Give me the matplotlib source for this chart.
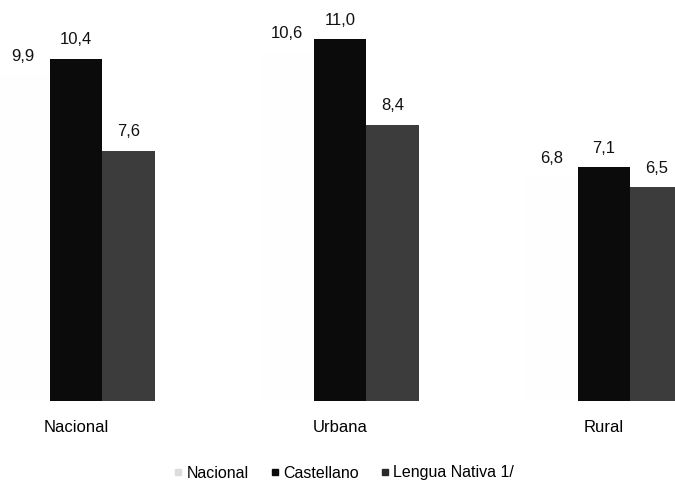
import matplotlib
matplotlib.use("Agg")
import matplotlib.pyplot as plt
from matplotlib.lines import Line2D
import numpy as np

plt.rcParams['font.family'] = ['Liberation Sans Narrow', 'Liberation Sans', 'DejaVu Sans']

categories = ["Nacional", "Urbana", "Rural"]
series_names = ["Nacional", "Castellano", "Lengua Nativa 1/"]
nacional = [9.9, 10.6, 6.8]
castellano = [10.4, 11.0, 7.1]
lengua_nativa = [7.6, 8.4, 6.5]
value_labels = [["9,9", "10,6", "6,8"], ["10,4", "11,0", "7,1"], ["7,6", "8,4", "6,5"]]

colors = ["#fefefe", "#0b0b0b", "#3c3c3c"]
legend_colors = ["#dcdcdc", "#0b0b0b", "#2a2a2a"]

W, H = 675, 483
fig = plt.figure(figsize=(W / 100, H / 100), dpi=100)
base_px = 401
ax = fig.add_axes([0, (H - base_px) / H, 1, base_px / H])

x = np.arange(len(categories))
bw = 0.2
data = [nacional, castellano, lengua_nativa]
for i, vals in enumerate(data):
    pos = x + (i - 1) * bw
    ax.bar(pos, vals, width=bw, color=colors[i], edgecolor='none')
    for p, v, lab in zip(pos, vals, value_labels[i]):
        ax.annotate(lab, (p, v), xytext=(0, 10.5), textcoords='offset points',
                    ha='center', va='baseline', fontsize=12, color='#111111')

px_per_unit = 264
ax.set_xlim(-76 / px_per_unit, (W - 76) / px_per_unit)
ax.set_ylim(0, base_px / 32.9)
ax.set_xticks(x)
ax.set_xticklabels(categories, fontsize=12)
ax.tick_params(axis='x', length=0, pad=14)
ax.set_yticks([])
for s in ax.spines.values():
    s.set_visible(False)

handles = [Line2D([], [], marker='s', linestyle='none', markersize=5,
                  markerfacecolor=c, markeredgecolor=c) for c in legend_colors]
fig.legend(handles, series_names, loc='center', bbox_to_anchor=(343 / W, 1 - 473 / H),
           ncol=3, frameon=False, fontsize=11.5, handletextpad=0.15, columnspacing=1.2,
           handlelength=0.8)

fig.savefig("out.png", dpi=100)
